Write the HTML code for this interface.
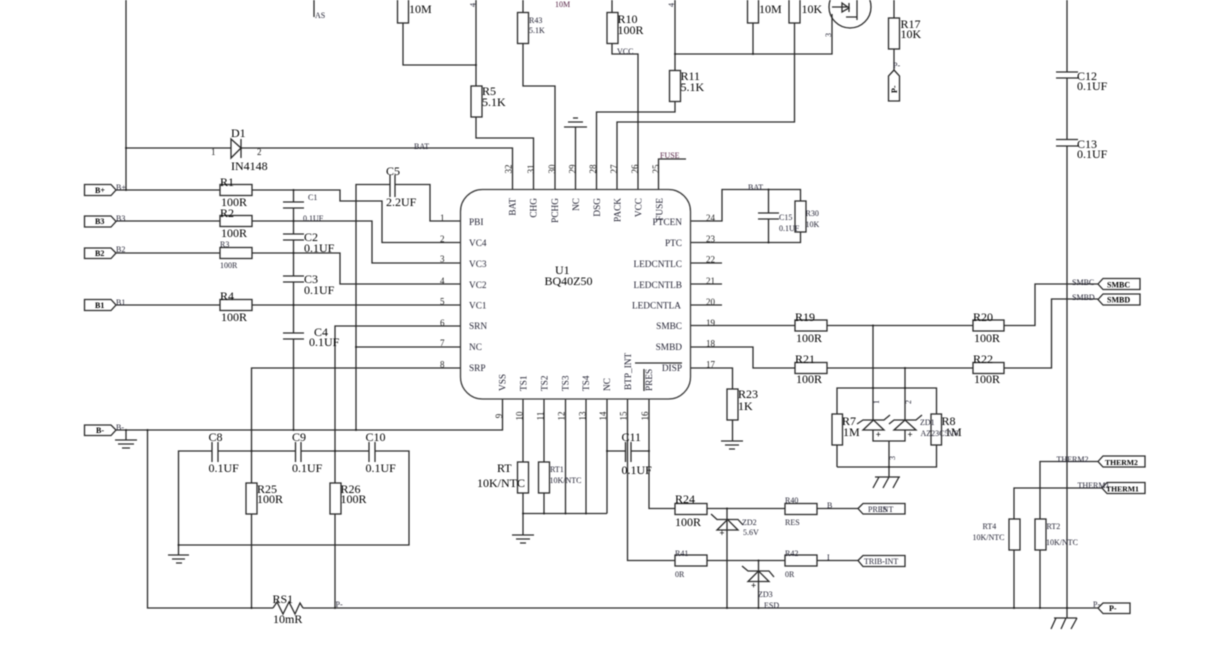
<!DOCTYPE html>
<html>
<head>
<meta charset="utf-8">
<style>
html,body{margin:0;padding:0;background:#fff;width:1230px;height:658px;overflow:hidden}
svg{display:block;filter:blur(0.4px)}
.w{fill:none;stroke:#2a2a2a;stroke-width:1.3}
.r{fill:#fff;stroke:#2a2a2a;stroke-width:1.3}
text{font-family:"Liberation Serif",serif;fill:#222}
.l{font-size:12px;fill:#000}
.s{font-size:8px;fill:#223}
.p{font-size:9.3px;fill:#223}
.n{font-size:9px;fill:#222}
.b{font-size:8px;font-weight:bold;fill:#000}
</style>
</head>
<body>
<svg width="1230" height="658" viewBox="0 0 1230 658" xmlns="http://www.w3.org/2000/svg">
<!-- wires -->
<g class="w">
<path d="M126 0V190M126 148H231M241 148H512.5V190"/>
<path d="M116 190H220M252 190H340V201H382V242.5H460"/>
<path d="M116 221H220M252 221H372V263H460"/>
<path d="M116 253H220M252 253H340V284H460"/>
<path d="M116 305H220M252 305H460"/>
<path d="M293.5 190V202M293.5 208V234M293.5 240V276M293.5 282V333M293.5 339V430"/>
<path d="M283 202H304M283 208H304M283 234H304M283 240H304M283 276H304M283 282H304M283 333H304M283 339H304"/>
<path d="M356 430V184.5H390M395 184.5H430V221H460"/>
<path d="M390 175V197M395 175V197"/>
<path d="M335 608V326H460M356 347H460M251.5 608V368H460"/>
<path d="M116 430H502.5V399"/>
<path d="M126 430V440M115 440H137M118 444H134M122 448H130"/>
<path d="M147.5 430V608H273M303 608H1098"/>
<path d="M273 608L277 602L283 614L289 602L295 614L300 603L303 608"/>
<path d="M178.5 555V451H212M218 451H295.5M301 451H369M375 451H409V545H178.5"/>
<path d="M212 442V462M218 442V462M295.5 442V462M301 442V462M369 442V462M375 442V462"/>
<path d="M168 555H189M172 559H185M176 563H182"/>
<!-- top -->
<path d="M314 0V17"/>
<path d="M403 0V65H476M476 0V138H533.5V190"/>
<path d="M523 0V86H555V190"/>
<path d="M612 0V54H638V190"/>
<path d="M675 0V112H596.5V190"/>
<path d="M675 54H832V14"/>
<path d="M753 0V54M794.5 0V122H617V190"/>
<path d="M575.5 190V127M564 127H587M568 122H583M573 118H578"/>
<path d="M658.5 190V159H686"/>
<path d="M894 0V70"/>
<path d="M1067 0V72M1067 78V139.5M1067 146V618"/>
<path d="M1056 72H1078M1056 78H1078M1056 139.5H1078M1056 146H1078"/>
<circle cx="850" cy="7" r="21"/>
<path d="M832 7H849M857 0V20M849 3V12M842 3L849 8L842 12ZM846 17H857"/>
<!-- right of chip -->
<path d="M691 221H722V189.5H800.5V242.5H691"/>
<path d="M768.5 189.5V213M768.5 219V242.5M758 213H779M758 219H779"/>
<path d="M691 263H722M691 284H722M691 305H722"/>
<path d="M691 325.5H795M827 325.5H973M1004 325.5H1035V284H1098"/>
<path d="M691 347H753V368H795M827 368H973M1004 368H1051.5V299H1098"/>
<path d="M691 368H732.5V441M721 441H743M725 445H739M729 449H735"/>
<path d="M873 325.5V420M905 368V420M837 467V388H936.5V467H837"/>
<path d="M873 430V441H905V430M889 441V477"/>
<path d="M863 430H884L873.5 420ZM894 430H916L905 420Z"/>
<path d="M857 424L863 420H884L890 415M889 424L894 420H916L922 415"/>
<path d="M875 477H900M879 477L873 488M889 477L883 488M899 477L893 488"/>
<!-- bottom -->
<path d="M523 399V535M544 399V513.5M565.5 399V513.5M586 399V513.5M607 399V513.5M523 513.5H607"/>
<path d="M512 535H534M516 539H530M520 543H526"/>
<path d="M607 451H625.5M631 451H649M625.5 442V462M631 442V462"/>
<path d="M627.5 399V560.5H675M707 560.5H785M817 560.5H858"/>
<path d="M649 399V508.5H675M707 508.5H785M817 508.5H858"/>
<path d="M727 508.5V608M758.5 560.5V608"/>
<path d="M717 530H738L727.5 519.5ZM748 581.5H769L758.5 571Z"/>
<path d="M711 514L717 519.5H738L743 525M742 566L748 571H769L774 577"/>
<!-- therm -->
<path d="M1098 461.5H1040V608M1102 488H1014V608"/>
<path d="M1054 618H1077M1056 618L1051 629M1066 618L1061 629M1077 618L1071 629"/>
</g>
<!-- chip -->
<rect x="460.5" y="189.5" width="230" height="209.5" rx="22" ry="22" fill="none" stroke="#3a3a3a" stroke-width="1.3"/>
<path class="w" d="M635 363H682M644 369V391"/>
<!-- diode -->
<path class="w" d="M231 139V158L241 148ZM241 139V158"/>
<!-- resistors -->
<g class="r">
<rect x="220" y="184.5" width="32" height="11"/>
<rect x="220" y="215.5" width="32" height="11"/>
<rect x="220" y="247.5" width="32" height="11"/>
<rect x="220" y="299.5" width="32" height="11"/>
<rect x="246" y="483" width="11" height="31"/>
<rect x="330" y="483" width="11" height="31"/>
<rect x="397.5" y="-8" width="11" height="31"/>
<rect x="471" y="86" width="11" height="31"/>
<rect x="517.5" y="12.5" width="11" height="31"/>
<rect x="607" y="12.5" width="11" height="31"/>
<rect x="669.5" y="70.5" width="11" height="31"/>
<rect x="747.5" y="-8" width="11" height="31"/>
<rect x="789" y="-8" width="11" height="31"/>
<rect x="888.5" y="18" width="11" height="31"/>
<rect x="795" y="201" width="11" height="31"/>
<rect x="795" y="320" width="32" height="11"/>
<rect x="795" y="362.5" width="32" height="11"/>
<rect x="973" y="320" width="31" height="11"/>
<rect x="973" y="362.5" width="31" height="11"/>
<rect x="727" y="389" width="11" height="31"/>
<rect x="832" y="414" width="10.5" height="31"/>
<rect x="931" y="414" width="10.5" height="31"/>
<rect x="517.5" y="462" width="11" height="31"/>
<rect x="538.5" y="462" width="11" height="31"/>
<rect x="675" y="503.5" width="32" height="11"/>
<rect x="675" y="555" width="32" height="11"/>
<rect x="785" y="503.5" width="32" height="11"/>
<rect x="785" y="555" width="32" height="11"/>
<rect x="1009" y="519" width="11" height="31"/>
<rect x="1035" y="519" width="11" height="31"/>
</g>
<!-- tags -->
<g class="r">
<polygon points="84.5,184.5 111,184.5 116,190 111,195.5 84.5,195.5"/>
<polygon points="84.5,216 111,216 116,221.5 111,227 84.5,227"/>
<polygon points="84.5,248 111,248 116,253 111,258.5 84.5,258.5"/>
<polygon points="84.5,299.5 111,299.5 116,305 111,310.5 84.5,310.5"/>
<polygon points="84.5,425 111,425 116,430 111,435.5 84.5,435.5"/>
<polygon points="1098,284 1103,278.5 1140,278.5 1140,289.5 1103,289.5"/>
<polygon points="1098,299.5 1103,294 1140,294 1140,305 1103,305"/>
<polygon points="1098,461.5 1103,456 1145,456 1145,467 1103,467"/>
<polygon points="1102,488 1107,482.5 1145,482.5 1145,493.5 1107,493.5"/>
<polygon points="1098,608 1103,603 1130,603 1130,613.5 1103,613.5"/>
<polygon points="858,508.5 863,503.5 905,503.5 905,514 863,514"/>
<polygon points="858,560.5 863,555.5 905,555.5 905,566.5 863,566.5"/>
<polygon points="894,70 899.5,76 899.5,101 888.5,101 888.5,76"/>
</g>
<!-- junction dots -->
<g fill="#222">
<circle cx="126" cy="148" r="1"/><circle cx="126" cy="190" r="1"/><circle cx="293.5" cy="190" r="1"/>
<circle cx="293.5" cy="221" r="1"/><circle cx="293.5" cy="253" r="1"/><circle cx="293.5" cy="305" r="1"/>
<circle cx="241" cy="148" r="1"/><circle cx="126" cy="430" r="1"/><circle cx="147.5" cy="430" r="1"/>
<circle cx="293.5" cy="430" r="1"/><circle cx="356" cy="430" r="1"/><circle cx="356" cy="347" r="1"/>
<circle cx="251.5" cy="451" r="1"/><circle cx="335" cy="451" r="1"/><circle cx="178.5" cy="545" r="1"/>
<circle cx="251.5" cy="608" r="1"/><circle cx="335" cy="608" r="1"/><circle cx="476" cy="65" r="1"/>
<circle cx="675" cy="54" r="1"/><circle cx="753" cy="54" r="1"/><circle cx="768.5" cy="189.5" r="1"/>
<circle cx="768.5" cy="242.5" r="1"/><circle cx="873" cy="325.5" r="1"/><circle cx="905" cy="368" r="1"/>
<circle cx="873" cy="388" r="1"/><circle cx="905" cy="388" r="1"/><circle cx="889" cy="467" r="1"/>
<circle cx="523" cy="513.5" r="1"/><circle cx="544" cy="513.5" r="1"/><circle cx="565.5" cy="513.5" r="1"/>
<circle cx="586" cy="513.5" r="1"/><circle cx="607" cy="451" r="1"/><circle cx="649" cy="451" r="1"/>
<circle cx="727" cy="508.5" r="1"/><circle cx="758.5" cy="560.5" r="1"/><circle cx="727" cy="608" r="1"/>
<circle cx="758.5" cy="608" r="1"/><circle cx="1014" cy="608" r="1"/><circle cx="1040" cy="608" r="1"/><circle cx="1067" cy="608" r="1"/>
</g>
<!-- left labels -->
<text class="l" x="231" y="137">D1</text><text class="l" x="231" y="170">IN4148</text>
<text class="n" x="211" y="155">1</text><text class="n" x="257" y="155">2</text>
<text class="s" x="414" y="149">BAT</text>
<text class="l" x="220" y="186">R1</text><text class="l" x="221" y="206">100R</text>
<text class="l" x="220" y="217">R2</text><text class="l" x="221" y="237">100R</text>
<text class="s" x="220" y="247">R3</text><text class="s" x="220" y="268">100R</text>
<text class="l" x="220" y="300">R4</text><text class="l" x="221" y="321">100R</text>
<text class="b" x="95" y="193">B+</text><text class="b" x="95" y="224">B3</text><text class="b" x="95" y="256">B2</text><text class="b" x="95" y="308">B1</text><text class="b" x="96" y="433">B-</text>
<text class="s" x="116" y="190">B+</text><text class="s" x="116" y="221">B3</text><text class="s" x="116" y="252">B2</text><text class="s" x="116" y="305">B1</text><text class="s" x="116" y="430">B-</text>
<text class="s" x="308" y="200">C1</text><text class="s" x="303" y="221">0.1UF</text>
<text class="l" x="304" y="241">C2</text><text class="l" x="304" y="252">0.1UF</text>
<text class="l" x="304" y="283">C3</text><text class="l" x="304" y="294">0.1UF</text>
<text class="l" x="314" y="336">C4</text><text class="l" x="309" y="346">0.1UF</text>
<text class="l" x="386" y="175">C5</text><text class="l" x="386" y="206">2.2UF</text>
<text class="l" x="208.5" y="441">C8</text><text class="l" x="208.5" y="472">0.1UF</text>
<text class="l" x="292" y="441">C9</text><text class="l" x="292" y="472">0.1UF</text>
<text class="l" x="365.5" y="441">C10</text><text class="l" x="365.5" y="472">0.1UF</text>
<text class="l" x="257" y="493">R25</text><text class="l" x="257" y="503">100R</text>
<text class="l" x="340.5" y="493">R26</text><text class="l" x="340.5" y="503">100R</text>
<text class="l" x="272.5" y="603">RS1</text><text class="l" x="273" y="623">10mR</text>
<text class="s" x="335.5" y="607">P-</text>
<!-- top labels -->
<text class="s" x="315" y="18">AS</text>
<text class="l" x="409" y="13">10M</text>
<text class="s" transform="translate(475.5,7) rotate(-90)">4</text>
<text class="l" x="482" y="95">R5</text><text class="l" x="482" y="106">5.1K</text>
<text class="s" x="529" y="23">R43</text><text class="s" x="529" y="33">5.1K</text>
<text class="s" x="555" y="7" style="fill:#524">10M</text>
<text class="l" x="617.5" y="23">R10</text><text class="l" x="617.5" y="34">100R</text>
<text class="s" x="617" y="54">VCC</text>
<text class="l" x="680.5" y="80">R11</text><text class="l" x="680.5" y="91">5.1K</text>
<text class="l" x="759" y="13">10M</text><text class="l" x="801.5" y="13">10K</text>
<text class="s" transform="translate(674,7) rotate(-90)">4</text>
<text class="s" transform="translate(831,37) rotate(-90)">3</text>
<text class="l" x="900.5" y="28">R17</text><text class="l" x="900.5" y="38">10K</text>
<text class="s" x="893" y="68">P-</text>
<text class="b" transform="translate(897,93) rotate(-90)">P-</text>
<text class="l" x="1077" y="80">C12</text><text class="l" x="1077" y="90">0.1UF</text>
<text class="l" x="1077" y="148">C13</text><text class="l" x="1077" y="158">0.1UF</text>
<text class="s" x="660" y="158" style="fill:#524">FUSE</text>
<!-- top pin numbers -->
<g text-anchor="middle">
<text class="n" transform="translate(511.5,169) rotate(-90)">32</text>
<text class="n" transform="translate(534,169) rotate(-90)">31</text>
<text class="n" transform="translate(555,169) rotate(-90)">30</text>
<text class="n" transform="translate(575.5,169) rotate(-90)">29</text>
<text class="n" transform="translate(596,169) rotate(-90)">28</text>
<text class="n" transform="translate(617,169) rotate(-90)">27</text>
<text class="n" transform="translate(638,169) rotate(-90)">26</text>
<text class="n" transform="translate(659,169) rotate(-90)">25</text>
</g>
<!-- chip top labels -->
<g text-anchor="end">
<text class="p" transform="translate(515.5,198) rotate(-90)">BAT</text>
<text class="p" transform="translate(536.5,198) rotate(-90)">CHG</text>
<text class="p" transform="translate(558,198) rotate(-90)">PCHG</text>
<text class="p" transform="translate(579,198) rotate(-90)">NC</text>
<text class="p" transform="translate(600,198) rotate(-90)">DSG</text>
<text class="p" transform="translate(620.5,198) rotate(-90)">PACK</text>
<text class="p" transform="translate(641.5,198) rotate(-90)">VCC</text>
<text class="p" transform="translate(662.5,198) rotate(-90)">FUSE</text>
</g>
<!-- chip left -->
<text class="p" x="469" y="225">PBI</text><text class="p" x="469" y="246">VC4</text><text class="p" x="469" y="267">VC3</text><text class="p" x="469" y="288">VC2</text><text class="p" x="469" y="308.5">VC1</text><text class="p" x="469" y="329">SRN</text><text class="p" x="469" y="350">NC</text><text class="p" x="469" y="371">SRP</text>
<text class="n" x="440" y="221">1</text><text class="n" x="440" y="242">2</text><text class="n" x="440" y="262">3</text><text class="n" x="440" y="284">4</text><text class="n" x="440" y="304.5">5</text><text class="n" x="440" y="326">6</text><text class="n" x="440" y="346">7</text><text class="n" x="440" y="367.5">8</text>
<!-- chip right -->
<g text-anchor="end">
<text class="p" x="682" y="225">PTCEN</text><text class="p" x="682" y="246">PTC</text><text class="p" x="682" y="267">LEDCNTLC</text><text class="p" x="682" y="288">LEDCNTLB</text><text class="p" x="681" y="308.5">LEDCNTLA</text><text class="p" x="682" y="329">SMBC</text><text class="p" x="682" y="350">SMBD</text><text class="p" x="682" y="371">DISP</text>
</g>
<text class="n" x="706" y="221">24</text><text class="n" x="706" y="242">23</text><text class="n" x="706" y="262.5">22</text><text class="n" x="706" y="284">21</text><text class="n" x="706" y="305">20</text><text class="n" x="706" y="326">19</text><text class="n" x="706" y="346.5">18</text><text class="n" x="706" y="367.5">17</text>
<!-- chip bottom -->
<text class="p" transform="translate(505.5,391) rotate(-90)">VSS</text>
<text class="p" transform="translate(526.5,391) rotate(-90)">TS1</text>
<text class="p" transform="translate(547.5,391) rotate(-90)">TS2</text>
<text class="p" transform="translate(568.5,391) rotate(-90)">TS3</text>
<text class="p" transform="translate(589,391) rotate(-90)">TS4</text>
<text class="p" transform="translate(610,391) rotate(-90)">NC</text>
<text class="p" transform="translate(631,390) rotate(-90)">BTP_INT</text>
<text class="p" transform="translate(652,391) rotate(-90)">PRES</text>
<g text-anchor="middle">
<text class="n" transform="translate(502,416) rotate(-90)">9</text>
<text class="n" transform="translate(522.5,416) rotate(-90)">10</text>
<text class="n" transform="translate(543.5,416) rotate(-90)">11</text>
<text class="n" transform="translate(564.5,416) rotate(-90)">12</text>
<text class="n" transform="translate(585.5,416) rotate(-90)">13</text>
<text class="n" transform="translate(606,416) rotate(-90)">14</text>
<text class="n" transform="translate(626.5,416) rotate(-90)">15</text>
<text class="n" transform="translate(648,416) rotate(-90)">16</text>
</g>
<text class="l" x="555" y="274">U1</text><text class="l" x="544.5" y="285">BQ40Z50</text>
<!-- right side -->
<text class="s" x="748" y="190">BAT</text>
<text class="s" x="779" y="220">C15</text><text class="s" x="779" y="231">0.1UF</text>
<text class="s" x="805.5" y="216">R30</text><text class="s" x="805.5" y="227">10K</text>
<text class="l" x="795" y="321">R19</text><text class="l" x="796" y="342">100R</text>
<text class="l" x="795" y="363">R21</text><text class="l" x="796" y="383">100R</text>
<text class="l" x="973" y="321">R20</text><text class="l" x="974" y="342">100R</text>
<text class="l" x="973" y="363">R22</text><text class="l" x="974" y="383">100R</text>
<text class="l" x="738" y="398">R23</text><text class="l" x="738" y="410">1K</text>
<text class="l" x="842" y="425">R7</text><text class="l" x="843" y="436">1M</text>
<text class="l" x="941.5" y="425">R8</text><text class="l" x="945" y="436">1M</text>
<text class="s" x="920" y="425">ZD1</text><text class="s" x="920.5" y="436">AZ23C5V6</text>
<g text-anchor="middle">
<text class="s" transform="translate(879,402) rotate(-90)">1</text>
<text class="s" transform="translate(911,402) rotate(-90)">2</text>
<text class="s" transform="translate(895,458) rotate(-90)">3</text>
</g>
<text class="b" x="875.7" y="437.5" style="font-size:9px">+</text><text class="b" x="907.5" y="437.5" style="font-size:9px">+</text>
<text class="s" x="1072" y="285">SMBC</text><text class="s" x="1072" y="300">SMBD</text>
<text class="b" x="1107" y="287.5">SMBC</text><text class="b" x="1107" y="302.5">SMBD</text>
<text class="s" x="1056.5" y="462">THERM2</text><text class="s" x="1077.5" y="488">THERM1</text>
<text class="b" x="1105" y="465" style="font-size:7.7px">THERM2</text><text class="b" x="1106" y="491.5" style="font-size:7.7px">THERM1</text>
<text class="b" x="1109" y="611">P-</text><text class="s" x="1093" y="607">P-</text>
<text class="s" x="982.5" y="529">RT4</text><text class="s" x="972.5" y="540">10K/NTC</text>
<text class="s" x="1046.5" y="529">RT2</text><text class="s" x="1046" y="545">10K/NTC</text>
<!-- bottom labels -->
<text class="l" x="497" y="472">RT</text><text class="l" x="477" y="487">10K/NTC</text>
<text class="s" x="550" y="472">RT1</text><text class="s" x="549.5" y="483">10K/NTC</text>
<text class="l" x="621.5" y="441">C11</text><text class="l" x="621.5" y="474">0.1UF</text>
<text class="l" x="675" y="503">R24</text><text class="l" x="675" y="526">100R</text>
<text class="s" x="785" y="503">R40</text><text class="s" x="785" y="525">RES</text>
<text class="s" x="827" y="508">B</text>
<text class="s" x="675" y="556">R41</text><text class="s" x="675" y="577">0R</text>
<text class="s" x="785" y="556">R42</text><text class="s" x="785" y="577">0R</text>
<text class="s" x="827" y="560">I</text>
<text class="s" x="742" y="525">ZD2</text><text class="s" x="743" y="535">5.6V</text>
<text class="s" x="758" y="597">ZD3</text><text class="s" x="764" y="608">ESD</text>
<text class="b" x="719.4" y="536" style="font-size:9px">+</text><text class="b" x="751" y="588.7" style="font-size:9px">+</text>
<text class="s" x="868" y="512">PRES</text><text class="s" x="880" y="512">INT</text>
<text class="s" x="864" y="564">TRIB-INT</text>
</svg>
</body>
</html>
